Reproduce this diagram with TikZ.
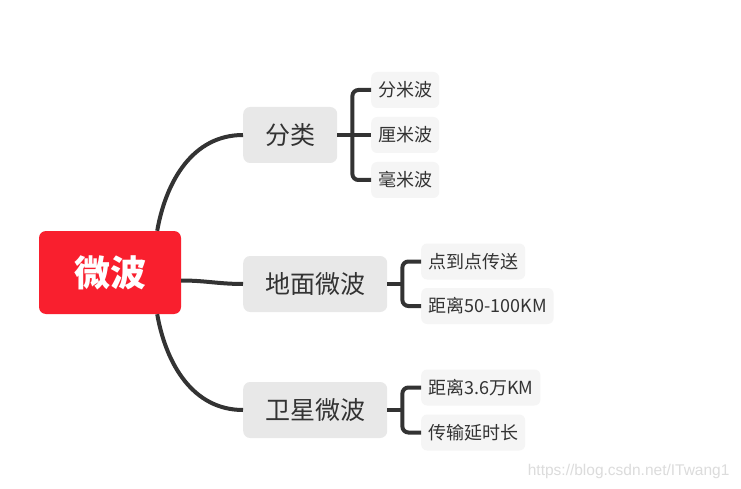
\documentclass[tikz,border=0pt]{standalone}
\usepackage{fontspec}
\setmainfont{Noto Sans CJK SC}
\newfontfamily\markfont{Liberation Sans}
\usetikzlibrary{calc}
\definecolor{rootred}{RGB}{249,31,46}
\definecolor{topicgray}{RGB}{232,232,232}
\definecolor{leafgray}{RGB}{245,245,245}
\definecolor{inkdark}{RGB}{51,51,51}
\definecolor{markgray}{RGB}{220,220,220}

\begin{document}
\begin{tikzpicture}[x=1pt, y=-1pt,
    rootbox/.style={fill=rootred, rounded corners=7pt, text=white, font=\fontsize{36pt}{40pt}\selectfont\bfseries, minimum width=142pt, minimum height=83pt, inner sep=0pt},
    topicbox/.style={anchor=west, fill=topicgray, rounded corners=7pt, text=inkdark, font=\fontsize{25pt}{30pt}\selectfont, inner xsep=22pt, inner ysep=0pt, minimum height=56pt},
    leafbox/.style={anchor=west, fill=leafgray, rounded corners=6pt, text=inkdark, font=\fontsize{18pt}{22pt}\selectfont, inner xsep=7pt, inner ysep=0pt, minimum height=36pt},
    link/.style={draw=inkdark, line width=4pt},
    fork/.style={draw=inkdark, line width=4pt, rounded corners=6pt}
]

% Background Card
\fill[white] (0,0) rectangle (741,489);
\useasboundingbox (0,0) rectangle (741,489);

% Root
\node[rootbox] (root) at (110,272.5) {微波};

% Topics
\node[topicbox] (fenlei) at (243,135) {分类};
\node[topicbox] (dimian) at (243,284) {地面微波};
\node[topicbox] (weixing) at (243,410) {卫星微波};

% Leaves
\node[leafbox] (fenmi) at (371,90) {分米波};
\node[leafbox] (limi) at (371,135) {厘米波};
\node[leafbox] (haomi) at (371,180) {毫米波};
\node[leafbox] (dianzu) at (421,261.5) {点到点传送};
\node[leafbox] (dmjuli) at (421,306) {距离50-100KM};
\node[leafbox] (wxjuli) at (421,387.5) {距离3.6万KM};
\node[leafbox] (yanshi) at (421,432.5) {传输延时长};

% Branch points
\coordinate (rootup) at ($(root.north east)+(-24,0)$);
\coordinate (rootside) at ($(root.east)+(0,8)$);
\coordinate (rootdown) at ($(root.south east)+(-24,0)$);
\coordinate (flfork) at ($(fenlei.east)+(15,0)$);
\coordinate (dmfork) at ($(dimian.east)+(15,0)$);
\coordinate (wxfork) at ($(weixing.east)+(15,0)$);

% Root links
\draw[link] (rootup) to[out=80, in=180] (fenlei.west);
\draw[link] (rootside) to[out=0, in=180] (dimian.west);
\draw[link] (rootdown) to[out=-80, in=180] (weixing.west);

% Forks
\draw[link] (fenlei.east) -- (limi.west);
\draw[fork] (fenmi.west) -| (flfork) |- (haomi.west);
\draw[link] (dimian.east) -- (dmfork);
\draw[fork] (dianzu.west) -| (dmfork) |- (dmjuli.west);
\draw[link] (weixing.east) -- (wxfork);
\draw[fork] (wxjuli.west) -| (wxfork) |- (yanshi.west);

% Watermark
\node[text=markgray, font=\markfont\fontsize{15.5pt}{18pt}\selectfont, anchor=east] (mark) at (733,471) {https://blog.csdn.net/ITwang1};

\end{tikzpicture}
\end{document}
